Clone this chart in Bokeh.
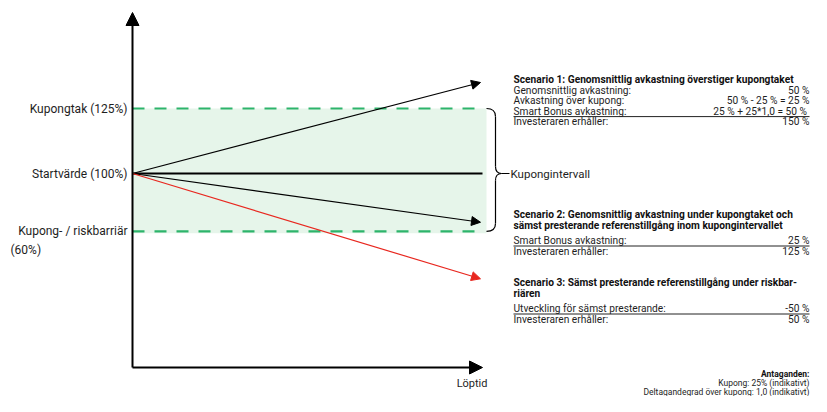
from bokeh.plotting import figure
from bokeh.models import Range1d, Arrow, NormalHead
from bokeh.core.properties import value
from bokeh.embed import file_html
from bokeh.resources import INLINE

# ---------------- data ----------------
level_labels = ["Kupongtak (125%)", "Startvärde (100%)", "Kupong- / riskbarriär"]
level_values = [1.0, 0.0, -0.89]          # schematic level (cap, start, barrier)
barrier_note = "(60%)"
scenario_end = [1.40, 0.0, -0.75, -1.62]  # up, flat, down, red (schematic)
scenario_colors = ["black", "black", "black", "#e8271f"]
time_end = 1.0
x_label = "Löptid"
interval_label = "Kupongintervall"

s1_title = ["Scenario 1: Genomsnittlig avkastning överstiger kupongtaket"]
s1_rows = ["Genomsnittlig avkastning:", "Avkastning över kupong:", "Smart Bonus avkastning:", "Investeraren erhåller:"]
s1_vals = ["50 %", "50 % - 25 % = 25 %", "25 % + 25*1,0  = 50 %", "150 %"]
s2_title = ["Scenario 2: Genomsnittlig avkastning under kupongtaket och",
            "sämst presterande referenstillgång inom kupongintervallet"]
s2_rows = ["Smart Bonus avkastning:", "Investeraren erhåller:"]
s2_vals = ["25 %", "125 %"]
s3_title = ["Scenario 3: Sämst presterande referenstillgång under riskbar-", "riären"]
s3_rows = ["Utveckling för sämst presterande:", "Investeraren erhåller:"]
s3_vals = ["-50 %", "50 %"]
assump_title = "Antaganden:"
assump_rows = ["Kupong: 25% (indikativt)", "Deltagandegrad över kupong: 1,0 (indikativt)"]

# ---------------- layout helpers (picture pixels -> schematic units) ----------------
W, H = 811, 396
X0, SX = 132.0, 348.0
Y0, SY = 173.0, 65.0
def tx(px):
    return (px - X0) / SX
def ly(py):
    return (Y0 - py) / SY

FONT = value("Roboto")
TXT = "#1e1e1e"
p = figure(width=W, height=H, output_backend="svg", toolbar_location=None,
           x_range=Range1d(tx(0), tx(W)), y_range=Range1d(ly(H), ly(0)),
           min_border=0)
p.axis.visible = False
p.grid.visible = False
p.outline_line_color = None
p.background_fill_color = "white"
p.border_fill_color = "white"

# coupon band
cap, start, barrier = level_values
p.quad(left=[0], right=[tx(486)], bottom=[barrier - 0.03], top=[cap],
       fill_color="#e6f5ea", line_color=None)
for lv in (cap, barrier):
    p.line([0, tx(484)], [lv, lv], line_color="#2db46b", line_width=2.2, line_dash="12 10")

# scenario lines
for i, (ye, c) in enumerate(zip(scenario_end, scenario_colors)):
    if i == 1:
        p.line([0, time_end * tx(482) / tx(480)], [start, ye], line_color="black", line_width=2)
    else:
        p.add_layout(Arrow(end=NormalHead(size=9, fill_color=c, line_color=c),
                           x_start=0, y_start=start, x_end=time_end, y_end=ye,
                           line_color=c, line_width=1.2))

# axes (arrows)
ybot = ly(367)
p.add_layout(Arrow(end=NormalHead(size=13, fill_color="black", line_color="black"),
                   x_start=0, y_start=ybot, x_end=0, y_end=ly(12), line_width=2))
p.add_layout(Arrow(end=NormalHead(size=13, fill_color="black", line_color="black"),
                   x_start=0, y_start=ybot, x_end=tx(482), y_end=ybot, line_width=2))

# level labels
p.text(x=[tx(127)] * 3, y=level_values, text=level_labels, text_align="right",
       text_baseline="middle", text_font=FONT, text_font_size="12px", text_color=TXT)
p.text(x=[tx(10)], y=[ly(249)], text=[barrier_note], text_align="left",
       text_baseline="middle", text_font=FONT, text_font_size="12px", text_color=TXT)
p.text(x=[tx(487)], y=[ly(383)], text=[x_label], text_align="right",
       text_baseline="middle", text_font=FONT, text_font_size="11px", text_color=TXT)

# brace
bx0, bx1, bx2 = tx(486), tx(495), tx(501)
p.quadratic(x0=[bx0, bx1, bx1, bx0], y0=[cap, ly(Y0 - 7), ly(Y0 + 7), barrier],
            x1=[bx1, bx2, bx2, bx1], y1=[ly(108 + 8), start, start, ly(231 - 8)],
            cx=[bx1, bx1, bx1, bx1], cy=[cap, start, start, barrier],
            line_color="black", line_width=1.2)
p.segment(x0=[bx1, bx1], y0=[ly(116), ly(180)], x1=[bx1, bx1], y1=[ly(166), ly(223)],
          line_color="black", line_width=1.2)
p.line([bx2, tx(509)], [start, start], line_color="black", line_width=1.2)
p.text(x=[tx(510)], y=[start], text=[interval_label], text_baseline="middle",
       text_font=FONT, text_font_size="11.5px", text_color=TXT)

# scenario text panel
LX, RX, LH = tx(513), tx(809), 10.6
FS = "10.2px"
def block(top, titles, rows, vals, underline_idx):
    ys = [top + i * LH for i in range(len(titles))]
    p.text(x=[LX] * len(titles), y=[ly(v) for v in ys], text=titles, text_baseline="middle",
           text_font=FONT, text_font_size=FS, text_font_style="bold", text_color="#111111")
    r0 = ys[-1] + LH + (5 if len(titles) > 1 else 0)
    rys = [r0 + i * LH for i in range(len(rows))]
    p.text(x=[LX] * len(rows), y=[ly(v) for v in rys], text=rows, text_baseline="middle",
           text_font=FONT, text_font_size=FS, text_color=TXT)
    p.text(x=[RX] * len(vals), y=[ly(v) for v in rys], text=vals, text_baseline="middle",
           text_align="right", text_font=FONT, text_font_size=FS, text_color=TXT)
    uy = rys[underline_idx] + 5.3
    p.line([LX, RX], [ly(uy), ly(uy)], line_color="#222222", line_width=1)

block(79, s1_title, s1_rows, s1_vals, 2)
block(214, s2_title, s2_rows, s2_vals, 0)
block(282, s3_title, s3_rows, s3_vals, 0)

p.text(x=[RX], y=[ly(373)], text=[assump_title], text_align="right", text_baseline="middle",
       text_font=FONT, text_font_size="8.5px", text_font_style="bold", text_color="#111111")
p.text(x=[RX] * 2, y=[ly(382.5), ly(391.5)], text=assump_rows, text_align="right",
       text_baseline="middle", text_font=FONT, text_font_size="8.5px", text_color=TXT)

open("out.html", "w").write(file_html(p, INLINE))
